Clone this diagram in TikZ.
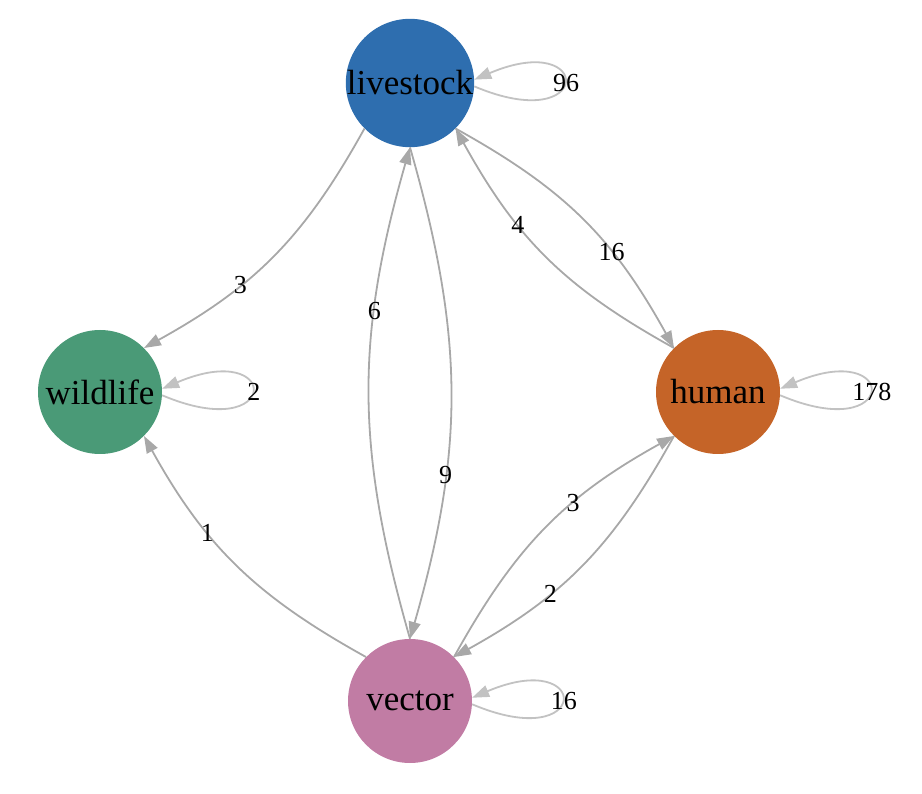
\documentclass[tikz,border=0pt]{standalone}
\usepackage{fontspec}
\setmainfont{Liberation Serif}
\usetikzlibrary{arrows.meta}
\definecolor{cLive}{HTML}{2E6EAF}
\definecolor{cWild}{HTML}{4A9A77}
\definecolor{cHum}{HTML}{C56428}
\definecolor{cVec}{HTML}{C17CA4}
\definecolor{cEdge}{HTML}{A8A8A8}
\definecolor{cLoop}{HTML}{C2C2C2}
\tikzset{
  vert/.style={circle, minimum size=124pt, inner sep=0pt, draw=none,
    font=\fontsize{35}{42}\selectfont},
  elabel/.style={font=\fontsize{26}{31}\selectfont, inner sep=0pt},
  edge/.style={draw=cEdge, line width=1.8pt, -{Triangle[length=17pt,width=12pt]}},
  loopedge/.style={draw=cLoop, line width=1.8pt, -{Triangle[length=17pt,width=12pt]}}
}
\begin{document}
\begin{tikzpicture}[x=1pt,y=-1pt]
\useasboundingbox (0,0) rectangle (922,794);
\node[vert, fill=cLive] (livestock) at (410,83) {livestock};
\node[vert, fill=cWild] (wildlife) at (100,392) {wildlife};
\node[vert, fill=cHum] (human) at (718,392) {human};
\node[vert, fill=cVec] (vector) at (410,701) {vector};

% livestock -> wildlife
\draw[edge] (livestock.225) .. controls +(241:126pt) and +(29:126pt) .. node[elabel,pos=0.65] (l1) {3} (wildlife.45);
% vector -> wildlife
\draw[edge] (vector.135) .. controls +(151:126pt) and +(299:126pt) .. node[elabel,pos=0.65] (l2) {1} (wildlife.315);
% vector -> livestock
\draw[edge] (vector.90) .. controls +(106:198pt) and +(254:198pt) .. node[elabel,pos=0.68] (l3) {6} (livestock.270);
% livestock -> vector
\draw[edge] (livestock.270) .. controls +(286:198pt) and +(74:198pt) .. node[elabel,pos=0.68] (l4) {9} (vector.90);
% human -> livestock
\draw[edge] (human.135) .. controls +(151:126pt) and +(299:126pt) .. node[elabel,pos=0.65] (l5) {4} (livestock.315);
% livestock -> human
\draw[edge] (livestock.315) .. controls +(331:126pt) and +(119:126pt) .. node[elabel,pos=0.65] (l6) {16} (human.135);
% vector -> human
\draw[edge] (vector.45) .. controls +(61:126pt) and +(209:126pt) .. node[elabel,pos=0.63] (l7) {3} (human.225);
% human -> vector
\draw[edge] (human.225) .. controls +(241:126pt) and +(29:126pt) .. node[elabel,pos=0.65] (l8) {2} (vector.45);

% self loops
\draw[loopedge] (livestock.-3) .. controls +(-23:130pt) and +(23:130pt) .. node[elabel,pos=0.5,xshift=2pt] (s1) {96} (livestock.3);
\draw[loopedge] (wildlife.-3) .. controls +(-23:130pt) and +(23:130pt) .. node[elabel,pos=0.5,xshift=2pt] (s2) {2} (wildlife.3);
\draw[loopedge] (human.-3) .. controls +(-23:130pt) and +(23:130pt) .. node[elabel,pos=0.5,xshift=2pt] (s3) {178} (human.3);
\draw[loopedge] (vector.-3) .. controls +(-23:130pt) and +(23:130pt) .. node[elabel,pos=0.5,xshift=2pt] (s4) {16} (vector.3);
\end{tikzpicture}
\end{document}
